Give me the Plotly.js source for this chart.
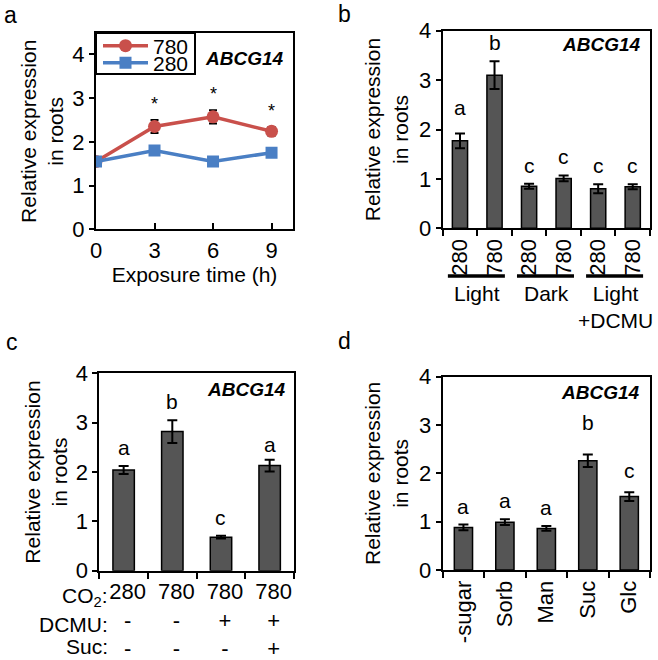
<!DOCTYPE html>
<html>
<head>
<meta charset="utf-8">
<script src="https://cdn.plot.ly/plotly-3.0.1.min.js"></script>
<style>
  html, body { margin: 0; padding: 0; background: #fff; }
  #plotArea { width: 658px; height: 660px; }
</style>
</head>
<body>
<div id="plotArea"></div>
<script>
// a: time course
var hours = [0, 3, 6, 9];
var high780 = [1.55, 2.35, 2.57, 2.24];
var high780Err = [0.05, 0.15, 0.15, 0.1];
var low280 = [1.55, 1.8, 1.55, 1.75];
var low280Err = [0.04, 0.05, 0.05, 0.05];
var starHours = [3, 6, 9];

// b: light / dark / DCMU
var lightCo2 = ["280", "780", "280", "780", "280", "780"];
var lightVals = [1.77, 3.1, 0.85, 1.01, 0.8, 0.84];
var lightErr = [0.15, 0.28, 0.05, 0.06, 0.09, 0.05];
var lightLetters = ["a", "b", "c", "c", "c", "c"];
var lightGroups = ["Light", "Dark", "Light<br>+DCMU"];

// c: CO2 / DCMU / Suc
var co2Row = ["280", "780", "780", "780"];
var dcmuRow = ["-", "-", "+", "+"];
var sucRow = ["-", "-", "-", "+"];
var dcmuVals = [2.04, 2.82, 0.68, 2.13];
var dcmuErr = [0.08, 0.23, 0.03, 0.12];
var dcmuLetters = ["a", "b", "c", "a"];

// d: sugars
var sugars = ["-sugar", "Sorb", "Man", "Suc", "Glc"];
var sugarVals = [0.88, 0.99, 0.86, 2.26, 1.52];
var sugarErr = [0.06, 0.06, 0.05, 0.13, 0.09];
var sugarLetters = ["a", "a", "a", "b", "c"];

var FONT = "Liberation Sans, Arial, Helvetica, sans-serif";
var RED = "#c9504b", BLUE = "#4a7fc4", BAR = "#555555";

function idx(arr) { return arr.map(function (_, i) { return i; }); }
function edges(n) { var e = []; for (var i = 0; i <= n; i++) e.push(i - 0.5); return e; }
function px(x) { return x / 658; }
function py(y) { return 1 - y / 660; }

function errBar(arr, w) {
    return {type: "data", array: arr, visible: true, color: "black", thickness: 2, width: w};
}

function barTrace(vals, err, xa, ya) {
    return {
        x: idx(vals), y: vals, type: "bar", xaxis: xa, yaxis: ya,
        width: 0.44, showlegend: false,
        marker: {color: BAR, line: {color: "black", width: 1.5}},
        error_y: errBar(err, 5)
    };
}

var data = [
    {x: hours, y: high780, name: "780", mode: "lines+markers", xaxis: "x", yaxis: "y", legend: "legend",
     line: {color: RED, width: 3.5}, marker: {symbol: "circle", size: 13, color: RED},
     error_y: errBar(high780Err, 4)},
    {x: hours, y: low280, name: "280", mode: "lines+markers", xaxis: "x", yaxis: "y", legend: "legend2",
     line: {color: BLUE, width: 3.5}, marker: {symbol: "square", size: 12, color: BLUE},
     error_y: errBar(low280Err, 4)},
    barTrace(lightVals, lightErr, "x2", "y2"),
    barTrace(dcmuVals, dcmuErr, "x3", "y3"),
    barTrace(sugarVals, sugarErr, "x4", "y4")
];

function boxAxis(extra) {
    var ax = {
        showline: true, mirror: true, linewidth: 2, linecolor: "black",
        ticks: "outside", ticklen: 5, tickwidth: 2, tickcolor: "black",
        showgrid: false, zeroline: false, fixedrange: true, automargin: false,
        tickfont: {family: FONT, size: 22, color: "black"}
    };
    for (var k in extra) ax[k] = extra[k];
    return ax;
}

function yTitle(standoff) {
    return {text: "Relative expression<br>in roots", standoff: standoff,
            font: {family: FONT, size: 21, color: "black"}};
}

function minorTicks(n) {
    return {tickmode: "array", tickvals: edges(n), ticks: "outside", ticklen: 6, tickwidth: 2, tickcolor: "black"};
}

function legendBox(yMid) {
    return {x: px(98), y: py(yMid), xanchor: "left", yanchor: "middle",
        bgcolor: "rgba(0,0,0,0)", borderwidth: 0, itemwidth: 45,
        font: {family: FONT, size: 21, color: "black"}};
}

var annotations = [];
var shapes = [];

function txt(o) {
    var a = {showarrow: false, font: {family: FONT, size: 21, color: "black"}};
    for (var k in o) a[k] = o[k];
    return a;
}

// panel letters
[["a", 2, 15], ["b", 336, 14], ["c", 4, 342], ["d", 336, 341]].forEach(function (p) {
    annotations.push(txt({text: p[0], xref: "paper", yref: "paper", x: px(p[1]), y: py(p[2]),
        xanchor: "left", yanchor: "middle", font: {family: FONT, size: 23, color: "black"}}));
});

// gene labels
[[286, 58], [643, 45], [288, 389], [642, 392]].forEach(function (p) {
    annotations.push(txt({text: "<b><i>ABCG14</i></b>", xref: "paper", yref: "paper",
        x: px(p[0]), y: py(p[1]), xanchor: "right", yanchor: "middle",
        font: {family: FONT, size: 19, color: "black"}}));
});

// asterisks in a
starHours.forEach(function (h) {
    var i = hours.indexOf(h);
    annotations.push(txt({text: "*", xref: "x", yref: "y", x: h, y: high780[i] + high780Err[i],
        yanchor: "bottom", yshift: 4, font: {family: FONT, size: 18, color: "black"}}));
});

// letter placement, with a few hand nudges (px) to sit like the original
function letters(vals, err, labs, xa, ya, nudge) {
    labs.forEach(function (l, i) {
        annotations.push(txt({text: l, xref: xa, yref: ya, x: i, y: vals[i] + err[i],
            yanchor: "bottom", yshift: 5 + ((nudge && nudge[i]) || 0)}));
    });
}
letters(lightVals, lightErr, lightLetters, "x2", "y2", {0: 7});
letters(dcmuVals, dcmuErr, dcmuLetters, "x3", "y3", {3: -3});
letters(sugarVals, sugarErr, sugarLetters, "x4", "y4", {3: 13, 4: 3});

// group bars + labels in b
lightGroups.forEach(function (g, k) {
    var start = 2 * k;
    shapes.push({type: "line", xref: "x2", yref: "paper", x0: start - 0.35, x1: start + 1.3,
        y0: py(276), y1: py(276), line: {color: "black", width: 3.5}});
    annotations.push(txt({text: g, xref: "x2", yref: "paper", x: start + 0.5, y: py(280),
        yanchor: "top"}));
});

// legend frame in a
shapes.push({type: "rect", xref: "paper", yref: "paper", x0: px(96), x1: px(195), y0: py(74), y1: py(33),
    fillcolor: "white", line: {color: "black", width: 2}, layer: "above"});

// row labels in c
[["CO<sub>2</sub>:", 597], ["DCMU:", 624], ["Suc:", 646]].forEach(function (r) {
    annotations.push(txt({text: r[0], xref: "paper", yref: "paper", x: px(110), y: py(r[1]),
        xanchor: "right", yanchor: "middle"}));
});

var cTicks = co2Row.map(function (c, i) { return c + "<br>" + dcmuRow[i] + "<br>" + sucRow[i]; });

var layout = {
    width: 658, height: 660,
    margin: {l: 0, r: 0, t: 0, b: 0},
    paper_bgcolor: "white", plot_bgcolor: "white",
    font: {family: FONT, color: "black"},
    showlegend: true,
    legend: legendBox(46),
    legend2: legendBox(63),
    xaxis: boxAxis({domain: [px(96), px(293)], anchor: "y", range: [0, 10.1],
        tickvals: hours, ticks: "inside", ticklen: 6,
        title: {text: "Exposure time (h)", standoff: 6, font: {family: FONT, size: 21, color: "black"}}}),
    yaxis: boxAxis({domain: [py(229.3), py(33.3)], anchor: "x", range: [0, 4.48],
        tickvals: [0, 1, 2, 3, 4], title: yTitle(3)}),
    xaxis2: boxAxis({domain: [px(442.7), px(650)], anchor: "y2", range: [-0.5, 5.5],
        tickvals: idx(lightCo2), ticktext: lightCo2, ticks: "", tickangle: -90,
        minor: minorTicks(6)}),
    yaxis2: boxAxis({domain: [py(228.3), py(30.7)], anchor: "x2", range: [0, 4],
        tickvals: [0, 1, 2, 3, 4], title: yTitle(5)}),
    xaxis3: boxAxis({domain: [px(99.3), px(294)], anchor: "y3", range: [-0.5, 3.5],
        tickvals: idx(co2Row), ticktext: cTicks, ticks: "", ticklabelshift: 4,
        minor: minorTicks(4)}),
    yaxis3: boxAxis({domain: [py(570.7), py(373.3)], anchor: "x3", range: [0, 4],
        tickvals: [0, 1, 2, 3, 4], title: yTitle(2)}),
    xaxis4: boxAxis({domain: [px(442.7), px(650)], anchor: "y4", range: [-0.5, 4.5],
        tickvals: idx(sugars), ticktext: sugars, ticks: "", tickangle: -90,
        minor: minorTicks(5)}),
    yaxis4: boxAxis({domain: [py(570), py(376.7)], anchor: "x4", range: [0, 4],
        tickvals: [0, 1, 2, 3, 4], title: yTitle(5)}),
    annotations: annotations,
    shapes: shapes
};

Plotly.newPlot("plotArea", data, layout, {displayModeBar: false, staticPlot: true});
</script>
</body>
</html>
